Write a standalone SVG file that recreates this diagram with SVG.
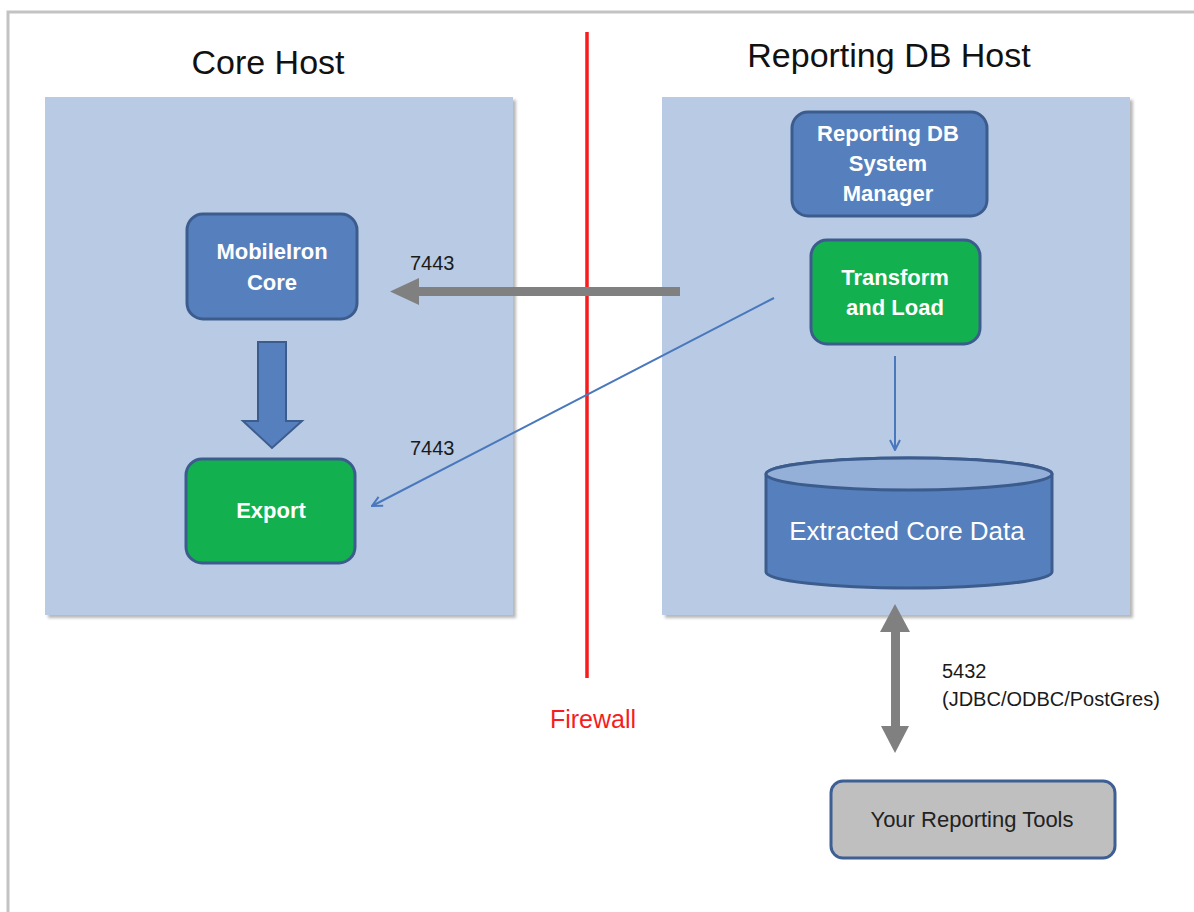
<svg xmlns="http://www.w3.org/2000/svg" width="1194" height="912" viewBox="0 0 1194 912">
<style>
text{font-family:"Liberation Sans",Arial,sans-serif}
.title{font-size:34px;fill:#111}
.lbl{font-size:20px;fill:#1a1a1a}
.nb{font-size:22px;font-weight:bold;fill:#fff}
.panel{fill:#b9cbe4}
.shadow{fill:#888;opacity:.6}
.blue{fill:#5580bd;stroke:#3c5c8e;stroke-width:3}
.green{fill:#13b04f;stroke:#3c5c8e;stroke-width:3}
.thin{stroke:#4a78bd;stroke-width:2;fill:none}
</style>
<defs>
<filter id="blur" x="-5%" y="-5%" width="110%" height="110%"><feGaussianBlur stdDeviation="1.5"/></filter>
<marker id="open" viewBox="0 0 12 12" refX="11" refY="6" markerWidth="12" markerHeight="12" markerUnits="userSpaceOnUse" orient="auto">
<path d="M1,1 L11,6 L1,11" fill="none" stroke="#4a78bd" stroke-width="2"/>
</marker>
</defs>
<rect width="1194" height="912" fill="#fff"/>
<path d="M8,912 V12 H1194" fill="none" stroke="#c3c3c3" stroke-width="3"/>

<g id="core-host">
<rect class="shadow" x="48" y="100" width="468" height="518" filter="url(#blur)"/>
<rect class="panel" x="45" y="97" width="468" height="518"/>
<text class="title" x="268" y="74" text-anchor="middle">Core Host</text>
</g>
<g id="reporting-host">
<rect class="shadow" x="665" y="100" width="468" height="518" filter="url(#blur)"/>
<rect class="panel" x="662" y="97" width="468" height="518"/>
<text class="title" x="889" y="67" text-anchor="middle">Reporting DB Host</text>
</g>

<g id="firewall">
<line x1="587" y1="32" x2="587" y2="678" stroke="#f51d1d" stroke-width="3.5"/>
<text x="593" y="728" text-anchor="middle" font-size="25" fill="#f51d1d">Firewall</text>
</g>

<g id="mobileiron-core">
<rect class="blue" x="187" y="214" width="170" height="105" rx="16"/>
<text class="nb" x="272" y="259" text-anchor="middle">MobileIron</text>
<text class="nb" x="272" y="290" text-anchor="middle">Core</text>
</g>
<g id="export">
<rect class="green" x="186" y="459" width="169" height="104" rx="16"/>
<text class="nb" x="271" y="518" text-anchor="middle">Export</text>
</g>
<g id="system-manager">
<rect class="blue" x="792" y="112" width="195" height="104" rx="16"/>
<text class="nb" x="888" y="141" text-anchor="middle">Reporting DB</text>
<text class="nb" x="888" y="171" text-anchor="middle">System</text>
<text class="nb" x="888" y="201" text-anchor="middle">Manager</text>
</g>
<g id="transform-load">
<rect class="green" x="811" y="240" width="169" height="104" rx="16"/>
<text class="nb" x="895" y="285" text-anchor="middle">Transform</text>
<text class="nb" x="895" y="315" text-anchor="middle">and Load</text>
</g>
<g id="extracted-data">
<path class="blue" d="M766,474 V572 A143,16 0 0 0 1052,572 V474 A143,16 0 0 0 766,474 Z"/>
<ellipse cx="909" cy="474" rx="143" ry="16" fill="#94afd8" stroke="#3c5c8e" stroke-width="3"/>
<text x="907" y="540" text-anchor="middle" font-size="26" fill="#fff">Extracted Core Data</text>
</g>
<g id="reporting-tools">
<rect x="831" y="781" width="284" height="77" rx="12" fill="#bfbfbf" stroke="#3e5f94" stroke-width="3"/>
<text x="972" y="827" text-anchor="middle" font-size="22" fill="#222">Your Reporting Tools</text>
</g>

<g id="connectors">
<polygon points="680,287 419,287 419,278 390,291.5 419,305 419,296 680,296" fill="#808080"/>
<polygon points="258,342 286,342 286,421 302,421 272,448 243,421 258,421" fill="#5580bd" stroke="#3c5c8e" stroke-width="2"/>
<line class="thin" x1="774" y1="298" x2="372" y2="506" marker-end="url(#open)"/>
<line class="thin" x1="895" y1="356" x2="895" y2="450" marker-end="url(#open)"/>
<polygon points="895,604 910,632 900,632 900,726 909,726 895,753 881,726 891,726 891,632 880,632" fill="#808080"/>
<text class="lbl" x="410" y="270">7443</text>
<text class="lbl" x="410" y="455">7443</text>
<text class="lbl" x="942" y="678">5432</text>
<text class="lbl" x="942" y="706">(JDBC/ODBC/PostGres)</text>
</g>
</svg>
